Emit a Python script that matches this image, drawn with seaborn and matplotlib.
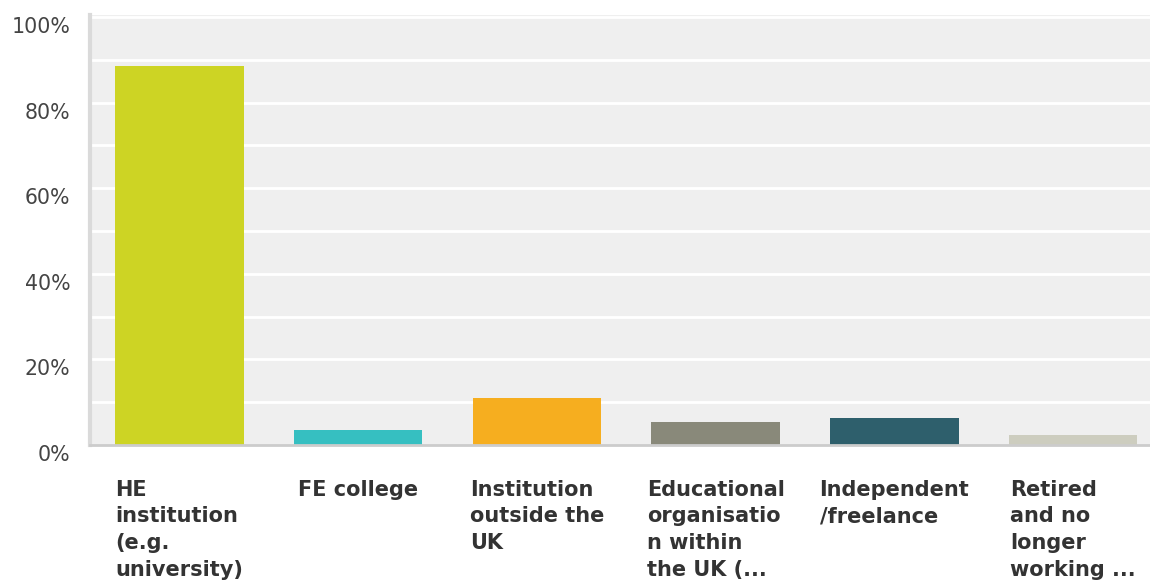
import matplotlib
matplotlib.use("Agg")
import matplotlib.pyplot as plt
import matplotlib.transforms as mtransforms
import seaborn as sns
import pandas as pd

# Survey responses: share of respondents by workplace type (%)
categories = [
    "HE institution (e.g. university)",
    "FE college",
    "Institution outside the UK",
    "Educational organisation within the UK (...",
    "Independent /freelance",
    "Retired and no longer working ...",
]
tick_labels = [
    "HE\ninstitution\n(e.g.\nuniversity)",
    "FE college",
    "Institution\noutside the\nUK",
    "Educational\norganisatio\nn within\nthe UK (...",
    "Independent\n/freelance",
    "Retired\nand no\nlonger\nworking ...",
]
percentages = [88.6, 3.5, 10.9, 5.4, 6.4, 2.4]
bar_colors = ["#cdd424", "#36bfc1", "#f6ae1f", "#89897a", "#2e5f6c", "#cdcdbf"]
y_ticks = [0, 20, 40, 60, 80, 100]

df = pd.DataFrame({"category": categories, "pct": percentages})

sns.set_theme(style="white")
plt.rcParams["font.family"] = ["DejaVu Sans"]

fig = plt.figure(figsize=(11.5, 5.8), dpi=100)
ax = fig.add_axes([90 / 1150, 135 / 580, 1060 / 1150, 430 / 580])
ax.set_facecolor("#efefef")

sns.barplot(data=df, x="category", y="pct", hue="category",
            palette=bar_colors, saturation=1, width=0.72, legend=False,
            ax=ax, edgecolor="none", zorder=3)

ax.set_xlim(-0.5, 5.43)
ax.set_ylim(0, 100.5)

# white gridlines every 10 %
for g in range(10, 101, 10):
    ax.axhline(g, color="white", lw=2, zorder=1)

for s in ["top", "right"]:
    ax.spines[s].set_visible(False)
ax.spines["left"].set_color("#dadada")
ax.spines["left"].set_linewidth(3)
ax.spines["bottom"].set_color("#cccccc")
ax.spines["bottom"].set_linewidth(2)
ax.spines["bottom"].set_zorder(4)

ax.set_yticks(y_ticks)
ax.set_yticklabels([f"{v}%" for v in y_ticks], fontsize=14.8, color="#444444")
ax.tick_params(axis="y", length=0, pad=14)
ytrans = mtransforms.ScaledTranslation(0, -8 / 100, fig.dpi_scale_trans)
for lbl in ax.get_yticklabels():
    lbl.set_transform(lbl.get_transform() + ytrans)

# category labels: block centred under each bar, lines left-aligned
ax.set_xticks(range(len(categories)))
ax.set_xticklabels(tick_labels, fontsize=15, fontweight="bold", color="#333333",
                   ha="center", va="top", multialignment="left", linespacing=1.42)
ax.tick_params(axis="x", length=0, pad=25)

ax.set_xlabel("")
ax.set_ylabel("")

fig.savefig("out.png", dpi=100)
